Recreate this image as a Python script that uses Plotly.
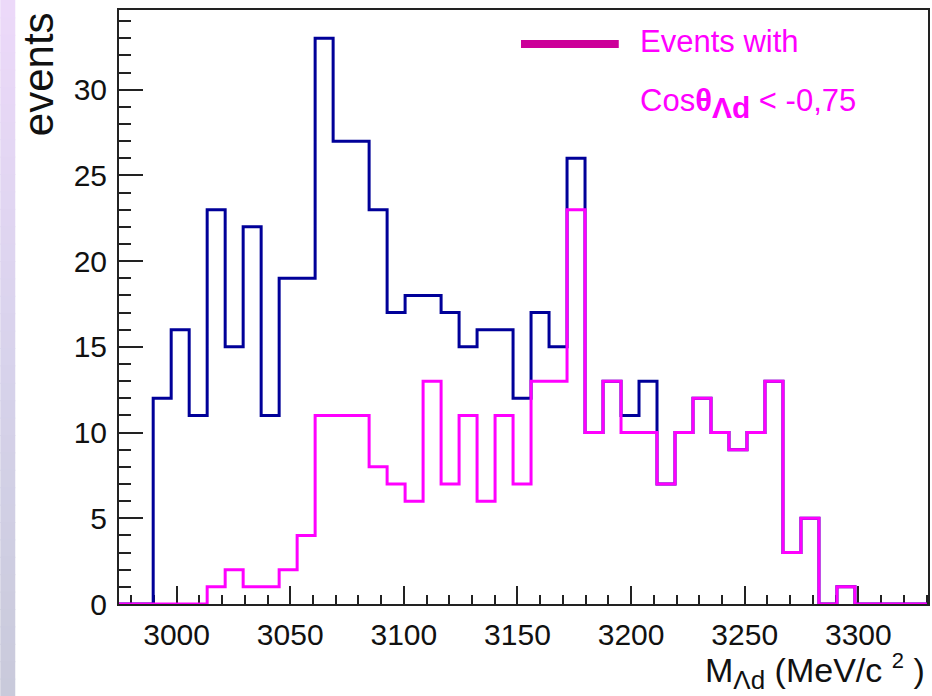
import plotly.graph_objects as go

# ---------------- data ----------------
bin_lo = 2973.86
bin_width = 7.918
all_counts = [0, 0, 12, 16, 11, 23, 15, 22, 11, 19, 19, 33, 27, 27, 23, 17, 18, 18, 17, 15,
              16, 16, 12, 17, 15, 26, 10, 13, 11, 13, 7, 10, 12, 10, 9, 10, 13, 3, 5, 0,
              1, 0, 0, 0, 0]
cut_counts = [0, 0, 0, 0, 0, 1, 2, 1, 1, 2, 4, 11, 11, 11, 8, 7, 6, 13, 7, 11,
              6, 11, 7, 13, 13, 23, 10, 13, 10, 10, 7, 10, 12, 10, 9, 10, 13, 3, 5, 0,
              1, 0, 0, 0, 0]
x_ticks = [3000, 3050, 3100, 3150, 3200, 3250, 3300]
y_ticks = [0, 5, 10, 15, 20, 25, 30]

# ---------------- layout geometry ----------------
W, H = 932, 696
L, R, T, B = 119, 2, 10, 92
PW, PH = W - L - R, H - T - B
x_range = [2974.65, 3330.65]
y_range = [0, 34.65]


def px(x):
    return (x - L) / PW


def py(y):
    return (H - B - y) / PH


def step(counts):
    edges = [bin_lo + bin_width * i for i in range(len(counts) + 1)]
    ys = list(counts) + [counts[-1]]
    return edges, ys


fig = go.Figure()
bx, by = step(all_counts)
fig.add_trace(go.Scatter(x=bx, y=by, mode="lines", line=dict(shape="hv", color="#000099", width=3),
                         showlegend=False, hoverinfo="skip"))
mx, my = step(cut_counts)
fig.add_trace(go.Scatter(x=mx, y=my, mode="lines", line=dict(shape="hv", color="#FF00FF", width=3),
                         showlegend=False, hoverinfo="skip"))

shapes = []
# left slide strip gradient
top_c = (236, 217, 249)
mid_c = (216, 211, 236)
bot_c = (201, 202, 219)
n = 40
for i in range(n):
    t = i / (n - 1)
    if t < 0.5:
        a, b_, u = top_c, mid_c, t / 0.5
    else:
        a, b_, u = mid_c, bot_c, (t - 0.5) / 0.5
    c = tuple(int(round(a[k] + (b_[k] - a[k]) * u)) for k in range(3))
    y0 = i * H / n
    y1 = (i + 1) * H / n + 1
    shapes.append(dict(type="rect", xref="paper", yref="paper", x0=px(0), x1=px(15),
                       y0=py(y1), y1=py(y0), fillcolor="rgb(%d,%d,%d)" % c,
                       line=dict(width=0), layer="below"))
# legend line sample
shapes.append(dict(type="line", xref="paper", yref="paper", x0=px(522), x1=px(620),
                   y0=py(44), y1=py(44), line=dict(color="#CC0099", width=8)))

font = "Liberation Sans, Arial, sans-serif"
annotations = [
    dict(text="Events with", xref="paper", yref="paper", x=px(639), y=py(41),
         xanchor="left", yanchor="middle", showarrow=False,
         font=dict(family=font, size=31, color="#FF00FF")),
    dict(text="Cos<b>θ</b><sub><span style='font-size:30px'><b>Λd</b></span></sub> &lt; -0,75",
         xref="paper", yref="paper",
         x=px(639), y=py(103), xanchor="left", yanchor="middle", showarrow=False,
         font=dict(family=font, size=31, color="#FF00FF")),
    dict(text="events", xref="paper", yref="paper", x=px(38), y=py(10),
         xanchor="center", yanchor="top", textangle=-90, showarrow=False,
         font=dict(family=font, size=42, color="#111111")),
    dict(text="M<sub><span style='font-size:26px'>Λd</span></sub> (MeV/c "
              "<sup><span style='font-size:22px'>2</span></sup> )",
         xref="paper", yref="paper",
         x=px(929), y=py(697), xanchor="right", yanchor="bottom", showarrow=False,
         font=dict(family=font, size=34, color="#111111")),
]

axis_common = dict(showline=True, linecolor="#222222", linewidth=2, mirror=True,
                   showgrid=False, zeroline=False, ticks="inside", tickcolor="#222222",
                   tickwidth=1.5, layer="below traces",
                   tickfont=dict(family=font, size=30, color="#111111"))

fig.update_layout(
    width=W, height=H,
    margin=dict(l=L, r=R, t=T, b=B),
    paper_bgcolor="white", plot_bgcolor="white",
    shapes=shapes, annotations=annotations,
    xaxis=dict(range=x_range, tickmode="array", tickvals=x_ticks,
               ticktext=[str(v) for v in x_ticks], ticklen=18,
               minor=dict(dtick=10, tick0=3000, ticks="inside", ticklen=9,
                          tickcolor="#222222", tickwidth=1.5),
               ticklabelstandoff=3, **axis_common),
    yaxis=dict(range=y_range, tickmode="array", tickvals=y_ticks,
               ticktext=[str(v) for v in y_ticks], ticklen=24,
               minor=dict(dtick=1, tick0=0, ticks="inside", ticklen=12,
                          tickcolor="#222222", tickwidth=1.5),
               ticklabelstandoff=4, **axis_common),
)

fig.write_html("out.html")
